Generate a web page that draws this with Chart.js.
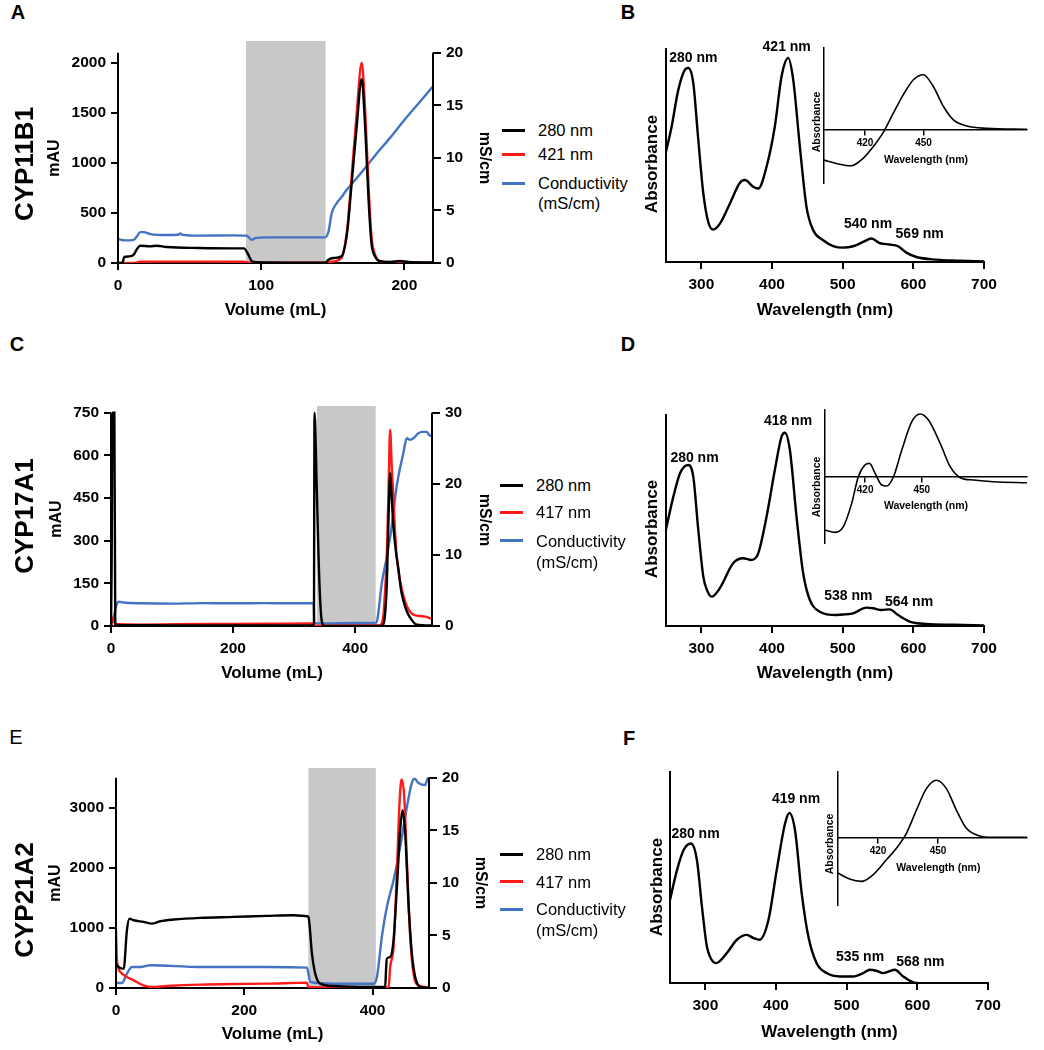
<!DOCTYPE html>
<html><head><meta charset="utf-8">
<script src="https://cdn.jsdelivr.net/npm/chart.js"></script>
<style>
html,body{margin:0;padding:0;background:#fff}
body{width:1044px;height:1050px;position:relative;overflow:hidden}
canvas{position:absolute}
.t{position:absolute;white-space:nowrap;line-height:1;font-family:"Liberation Sans",Arial,Helvetica,sans-serif;color:#000;z-index:5}
.lg{position:absolute;height:3px;z-index:5}
</style></head><body>
<script>
// ---------------- DATA ----------------
// Chromatograms: [volume (mL), value]
const cyp11b1_280nm = [[0,0],[3,0],[4.4,60],[8,66],[11,83],[13,133],[15.6,173],[22.6,166],[27,173],[34,160],[57,150],[80.7,146],[88,146],[91,83],[93.5,17],[97,7],[120,4],[145,4],[147,33],[150.5,50],[156,66],[160,300],[163,764],[166.7,1362],[170.2,1837],[172.6,1362],[175,631],[177,200],[179.5,66],[183,17],[190,10],[197,20],[203,10],[220,5]];
const cyp11b1_421nm = [[0,0],[12,0],[15,12],[30,14],[60,14],[88,13],[92,3],[100,2],[145,2],[150,15],[156,50],[160,332],[163,830],[166.7,1495],[170.2,2000],[172.6,1528],[175,764],[177,266],[179.5,83],[183,17],[190,5],[220,3]];
const cyp11b1_cond = [[0,2.28],[5,2.15],[11,2.2],[13,2.5],[15.6,2.94],[18,2.94],[22.6,2.75],[34,2.66],[42,2.68],[43.5,2.8],[45,2.68],[57,2.6],[80.7,2.63],[89.3,2.6],[91,2.5],[93.5,2.2],[95.8,2.37],[104,2.44],[127,2.44],[144.7,2.44],[147,3.0],[149.3,4.75],[152.8,5.7],[156.3,6.3],[159.8,6.96],[170,8.6],[180,10.3],[190,11.9],[200,13.6],[210,15.2],[220,16.8]];
const cyp11b1_load = [89.3, 145.1];

const cyp17a1_280nm = [[0,0],[1,200],[2.5,750],[5.5,750],[7,5],[20,3],[100,2],[200,2],[330,2],[332.5,10],[333.5,750],[337,500],[340,250],[343,80],[346,10],[350,0],[445,0],[449,40],[452,150],[455,400],[457.4,537],[460,450],[462.8,350],[467,260],[471,200],[475,130],[479,90],[485,50],[490,30],[501,5],[526,2]];
const cyp17a1_417nm = [[0,0],[2,15],[3.5,30],[6,12],[10,6],[50,5],[150,7],[250,8],[330,9],[332,2],[340,1],[440,2],[446,30],[449,120],[452,250],[455,500],[457.4,690],[460,560],[462.8,450],[465,350],[468,250],[472,180],[476.5,130],[480,100],[484.7,70],[490,50],[495.6,40],[506,35],[515,33],[526,25]];
const cyp17a1_cond = [[0,0.1],[5,1.5],[10,3.2],[13.7,3.42],[20,3.3],[50,3.2],[100,3.15],[150,3.22],[200,3.2],[250,3.22],[300,3.2],[330,3.19],[332,3.1],[333.5,0.4],[350,0.37],[400,0.42],[435,0.47],[437,1.2],[443.7,6],[452,9.75],[460,14],[468,19.6],[479,24.3],[484.7,26.4],[490,26.2],[495.6,26.4],[503.8,27.1],[510,27.3],[517.5,27.3],[521,26.9],[526,26.7]];
const cyp17a1_load = [337, 434];

const cyp21a2_280nm = [[0,405],[4,350],[9.4,322],[12,322],[17,960],[21,1155],[27.5,1128],[43,1100],[56,1072],[69,1111],[90,1139],[131,1167],[183,1183],[235,1200],[277,1211],[297.7,1194],[300,1183],[305.5,572],[310.6,239],[318.4,72],[339,33],[391,17],[419.7,17],[421,300],[422.3,489],[427.5,517],[432.7,794],[438,1683],[443,2628],[446.8,2961],[450.9,2572],[456,1405],[461.3,572],[466.5,183],[474.3,17],[488,0]];
const cyp21a2_417nm = [[0,960],[1.5,461],[6.8,267],[17,183],[27.5,128],[43,44],[56,17],[79.5,33],[131,56],[183,67],[235,72],[297.7,89],[299.7,17],[350,10],[400,10],[425,12],[427.5,350],[432.7,683],[438,1961],[442,3072],[445.2,3472],[449.4,3183],[453.5,2128],[458.7,850],[463.9,239],[471.7,44],[488,10]];
const cyp21a2_cond = [[0,0.48],[9.4,0.48],[17,1.37],[25,2.0],[38,2.0],[53.5,2.16],[131,2.0],[235,2.0],[297.7,1.94],[303,0.57],[339,0.41],[401.6,0.41],[406.8,1.05],[414.5,4.86],[422.3,7.7],[432.7,10.25],[443,13.4],[453.5,17.2],[461.3,19.5],[465.5,19.9],[471.7,19.5],[482,19.3],[485.7,19.9],[488,20]];
const cyp21a2_load = [299.7, 405.2];

// Tick labels
const ticksA_x = [0,100,200], ticksA_mAU = [0,500,1000,1500,2000], ticksA_mS = [0,5,10,15,20];
const ticksC_x = [0,200,400], ticksC_mAU = [0,150,300,450,600,750], ticksC_mS = [0,10,20,30];
const ticksE_x = [0,200,400], ticksE_mAU = [0,1000,2000,3000], ticksE_mS = [0,5,10,15,20];
const ticksWavelength = [300,400,500,600,700];
const ticksInset = [420,450];

// Absorbance spectra: [wavelength (nm), relative absorbance]
const specB = [[250,0.518],[258,0.636],[267.4,0.808],[276.9,0.903],[281.6,0.911],[288.6,0.84],[295.7,0.573],[302.8,0.322],[309.8,0.188],[316.9,0.152],[326.3,0.18],[340.5,0.275],[354.6,0.372],[361.7,0.385],[373.5,0.353],[380.5,0.345],[392.3,0.447],[404,0.636],[413.5,0.871],[422.9,0.958],[430,0.856],[439.4,0.542],[448.8,0.259],[458.3,0.149],[472.4,0.102],[486.5,0.075],[500.7,0.0675],[514.8,0.074],[528.9,0.094],[540.7,0.11],[552.5,0.089],[566.6,0.082],[578.4,0.074],[590.2,0.044],[604.3,0.0235],[632.6,0.011],[665.6,0.006],[700,0.002]];
const specD = [[250,0.458],[260.4,0.613],[269.8,0.724],[276,0.755],[281.6,0.763],[288.6,0.708],[295.7,0.455],[302.8,0.234],[308,0.17],[314.6,0.139],[326,0.178],[345,0.297],[359.3,0.321],[371,0.313],[380.5,0.344],[392.3,0.518],[404,0.739],[413.5,0.897],[418.2,0.916],[425.3,0.834],[434.7,0.518],[444.1,0.25],[453.6,0.123],[467.7,0.068],[491.3,0.052],[503,0.055],[514.8,0.06],[533.7,0.087],[543,0.084],[554.9,0.076],[566.6,0.079],[578.4,0.052],[594.9,0.021],[618.5,0.0095],[656.2,0.006],[700,0.003]];
const specF = [[250,0.394],[259.9,0.535],[269.3,0.63],[279.6,0.661],[288.1,0.583],[295.2,0.362],[302.2,0.173],[308,0.115],[315.4,0.094],[330.5,0.142],[344.6,0.205],[358.7,0.228],[368.1,0.213],[376.6,0.205],[389.3,0.299],[401,0.535],[412.8,0.756],[418.9,0.806],[426.9,0.724],[436.4,0.425],[445.8,0.22],[457.5,0.094],[471.7,0.047],[490.5,0.031],[509.3,0.031],[523.4,0.047],[532.8,0.063],[542,0.058],[551.6,0.047],[560,0.055],[568.1,0.063],[579.9,0.031],[594,0.003],[600,0]];

// Difference spectra insets
const insetB = [[399,-0.379],[405.3,-0.42],[413,-0.449],[419,-0.358],[424.2,-0.214],[429.3,-0.041],[434.5,0.198],[439.6,0.424],[444.8,0.609],[449.9,0.671],[455,0.527],[460.2,0.28],[465.3,0.115],[472.2,0.041],[482.5,0.012],[503,0]];
const insetD = [[398.8,-0.8],[404.1,-0.835],[408.5,-0.75],[412.9,-0.4],[416.4,0],[419.9,0.175],[422.3,0.2],[425.3,0.05],[428.8,-0.125],[431.4,-0.14],[435,0],[439.4,0.4],[444.7,0.825],[449.1,0.94],[453.5,0.85],[459.7,0.5],[465,0.15],[470.3,-0.015],[477.3,-0.05],[487.9,-0.075],[505.6,-0.09]];
const insetF = [[400,-0.548],[405.8,-0.64],[411.7,-0.675],[417.5,-0.574],[424.2,-0.345],[429.2,-0.168],[434.2,0.061],[439.2,0.416],[444.2,0.746],[449.2,0.873],[454.2,0.746],[459.2,0.416],[464.2,0.137],[470.8,0.02],[477.5,0],[494.5,0]];
const insetRangeB = [399, 503], insetRangeD = [398.8, 505.6], insetRangeF = [400, 494.5];

// ---------------- DRAWING ----------------
const FONT = "'Liberation Sans', Arial, Helvetica, sans-serif";
const pts = a => a.map(([x, y]) => ({x, y}));
const setTicks = arr => s => { s.ticks = arr.map(v => ({value: v})); };
const num = v => String(v);

function makeCanvas(left, top, w, h) {
  const c = document.createElement('canvas');
  c.width = w; c.height = h;
  c.style.left = left + 'px'; c.style.top = top + 'px';
  c.style.width = w + 'px'; c.style.height = h + 'px';
  document.body.appendChild(c);
  return c.getContext('2d');
}

Chart.register({
  id: 'axisLines',
  afterDraw(chart, args, opts) {
    const lines = opts.lines || [];
    if (!lines.length) return;
    const ctx = chart.ctx, a = chart.chartArea;
    ctx.save(); ctx.strokeStyle = '#000'; ctx.lineWidth = 2;
    lines.forEach(l => {
      const s = chart.scales[l.scale];
      const x = l.side === 'left' ? a.left : a.right;
      ctx.beginPath();
      ctx.moveTo(x, s.getPixelForValue(0) + 1);
      ctx.lineTo(x, s.getPixelForValue(l.top));
      ctx.stroke();
    });
    ctx.restore();
  }
});

const base = {responsive: false, animation: false, devicePixelRatio: 1, events: []};

function chromatogram(o) {
  const padL = 80, padR = 50, padT = 22, padB = 45;
  const W = o.R - o.L + padL + padR, H = o.B - o.T + padT + padB;
  const ctx = makeCanvas(o.L - padL, o.T - padT, W, H);
  const leftMax = o.leftTop * (o.B - o.T) / (o.B - o.axisTop);
  const rightMax = o.rightTop * (o.B - o.T) / (o.B - o.axisTop);
  const tf = {family: FONT, size: 15.5, weight: 'bold'};
  const line = (d, c, ax) => ({data: pts(d), yAxisID: ax, borderColor: c, borderWidth: 2.4, pointRadius: 0, fill: false, cubicInterpolationMode: 'monotone'});
  new Chart(ctx, {
    type: 'line',
    data: {datasets: [
      line(o.s280, '#000000', 'y'),
      line(o.sAbs, '#ff1a1a', 'y'),
      line(o.sCond, '#4472c4', 'y2'),
      {data: [{x: o.load[0], y: leftMax}, {x: o.load[1], y: leftMax}], yAxisID: 'y', borderWidth: 0, borderColor: 'rgba(0,0,0,0)', pointRadius: 0, fill: 'origin', backgroundColor: '#c8c8c8'}
    ]},
    options: Object.assign({}, base, {
      layout: {padding: {top: padT, bottom: 0, left: 0, right: 0}},
      plugins: {legend: {display: false}, tooltip: {enabled: false},
        axisLines: {lines: [{scale: 'y', side: 'left', top: o.leftTop}, {scale: 'y2', side: 'right', top: o.rightTop}]}},
      scales: {
        x: {type: 'linear', min: 0, max: o.xMax, afterBuildTicks: setTicks(o.xTicks), afterFit: s => { s.height = padB; },
            grid: {drawOnChartArea: false, tickLength: 7, color: '#000', lineWidth: 2},
            border: {display: true, color: '#000', width: 2},
            ticks: {font: tf, color: '#000', padding: 6, maxRotation: 0, autoSkip: false, callback: num}},
        y: {type: 'linear', position: 'left', min: 0, max: leftMax, afterBuildTicks: setTicks(o.leftTicks), afterFit: s => { s.width = padL; },
            grid: {drawOnChartArea: false, tickLength: 7, color: '#000', lineWidth: 2},
            border: {display: false},
            ticks: {font: tf, color: '#000', padding: 5, callback: num}},
        y2: {type: 'linear', position: 'right', min: 0, max: rightMax, afterBuildTicks: setTicks(o.rightTicks), afterFit: s => { s.width = padR; },
            grid: {drawOnChartArea: false, tickLength: 8, color: '#000', lineWidth: 2},
            border: {display: false},
            ticks: {font: tf, color: '#000', padding: 5, callback: num}}
      }
    })
  });
}

function spectrum(o) {
  const padL = 30, padR = 30, padT = 4, padB = 45;
  const W = o.R - o.L + padL + padR, H = o.B - o.T + padT + padB;
  const ctx = makeCanvas(o.L - padL, o.T - padT, W, H);
  const tf = {family: FONT, size: 15.5, weight: 'bold'};
  new Chart(ctx, {
    type: 'line',
    data: {datasets: [{data: pts(o.data), borderColor: '#000', borderWidth: 2.4, pointRadius: 0, fill: false, cubicInterpolationMode: 'monotone'}]},
    options: Object.assign({}, base, {
      layout: {padding: {top: padT, bottom: 0, left: 0, right: padR}},
      plugins: {legend: {display: false}, tooltip: {enabled: false}},
      scales: {
        x: {type: 'linear', min: 250, max: 700, afterBuildTicks: setTicks(ticksWavelength), afterFit: s => { s.height = padB; },
            grid: {drawOnChartArea: false, tickLength: 7, color: '#000', lineWidth: 2},
            border: {display: true, color: '#000', width: 2},
            ticks: {font: tf, color: '#000', padding: 6, maxRotation: 0, autoSkip: false, callback: num}},
        y: {type: 'linear', min: 0, max: 1, afterFit: s => { s.width = padL; },
            grid: {display: false}, border: {display: true, color: '#000', width: 2}, ticks: {display: false}}
      }
    })
  });
}

function inset(o) {
  const pad = 3;
  const ctx = makeCanvas(o.L - pad, o.T - pad, o.R - o.L + 2 * pad, o.B - o.T + 2 * pad);
  const yMin = -(o.B - o.zeroY) / (o.zeroY - o.T);
  new Chart(ctx, {
    type: 'line',
    data: {datasets: [{data: pts(o.data), borderColor: '#000', borderWidth: 1.6, pointRadius: 0, fill: false, cubicInterpolationMode: 'monotone'}]},
    options: Object.assign({}, base, {
      layout: {padding: {top: pad, bottom: pad, left: 0, right: pad}},
      plugins: {legend: {display: false}, tooltip: {enabled: false}},
      scales: {
        x: {type: 'linear', position: {y: 0}, min: o.range[0], max: o.range[1], afterBuildTicks: setTicks(ticksInset),
            grid: {drawOnChartArea: false, tickLength: 5, color: '#000', lineWidth: 1.5},
            border: {display: true, color: '#000', width: 1.5},
            ticks: {font: {family: FONT, size: 10, weight: 'bold'}, color: '#000', padding: 3, maxRotation: 0, autoSkip: false, callback: num}},
        y: {type: 'linear', min: yMin, max: 1, afterFit: s => { s.width = pad; },
            grid: {display: false}, border: {display: true, color: '#000', width: 1.5}, ticks: {display: false}}
      }
    })
  });
}

function txt(s, x, y, o = {}) {
  const d = document.createElement('div');
  d.className = 't'; d.textContent = s;
  d.style.left = x + 'px'; d.style.top = y + 'px';
  d.style.fontSize = (o.size || 14) + 'px';
  d.style.fontWeight = o.bold === false ? 'normal' : 'bold';
  d.style.transform = (o.left ? 'translate(0,-50%)' : 'translate(-50%,-50%)') + (o.rot ? ' rotate(' + o.rot + 'deg)' : '');
  document.body.appendChild(d);
}

function legend(x0, x1, tx, rows) {
  rows.forEach(r => {
    if (r.color) {
      const l = document.createElement('div');
      l.className = 'lg';
      l.style.left = x0 + 'px'; l.style.width = (x1 - x0) + 'px';
      l.style.top = Math.round(r.y - 1.5) + 'px'; l.style.background = r.color;
      document.body.appendChild(l);
    }
    txt(r.text, tx, r.y, {left: true, bold: false, size: 16.5});
  });
}

// ---- Panel A ----
chromatogram({L: 118, R: 433, T: 41, B: 263, axisTop: 52.7, xMax: 220, xTicks: ticksA_x, leftTicks: ticksA_mAU, rightTicks: ticksA_mS, leftTop: 2100, rightTop: 20,
  s280: cyp11b1_280nm, sAbs: cyp11b1_421nm, sCond: cyp11b1_cond, load: cyp11b1_load});
// ---- Panel C ----
chromatogram({L: 111, R: 432, T: 406, B: 626, axisTop: 412.7, xMax: 526, xTicks: ticksC_x, leftTicks: ticksC_mAU, rightTicks: ticksC_mS, leftTop: 750, rightTop: 30,
  s280: cyp17a1_280nm, sAbs: cyp17a1_417nm, sCond: cyp17a1_cond, load: cyp17a1_load});
// ---- Panel E ----
chromatogram({L: 116, R: 429, T: 768, B: 988, axisTop: 777.7, xMax: 488, xTicks: ticksE_x, leftTicks: ticksE_mAU, rightTicks: ticksE_mS, leftTop: 3500, rightTop: 20,
  s280: cyp21a2_280nm, sAbs: cyp21a2_417nm, sCond: cyp21a2_cond, load: cyp21a2_load});

// ---- Spectra ----
spectrum({L: 666, R: 984, T: 49, B: 262, data: specB});
spectrum({L: 666, R: 984, T: 415, B: 626, data: specD});
spectrum({L: 670, R: 988, T: 772, B: 983, data: specF});

inset({L: 824, R: 1027, T: 48, B: 183, zeroY: 129.3, range: insetRangeB, data: insetB});
inset({L: 825, R: 1027, T: 410, B: 543, zeroY: 476.7, range: insetRangeD, data: insetD});
inset({L: 838, R: 1027, T: 772, B: 905, zeroY: 837.3, range: insetRangeF, data: insetF});

// ---- Text ----
txt('A', 18, 12, {size: 20}); txt('B', 628, 12, {size: 20});
txt('C', 17, 344, {size: 20}); txt('D', 628, 344, {size: 20});
txt('E', 16, 737, {size: 20, bold: false}); txt('F', 629, 738, {size: 20});

txt('CYP11B1', 23.5, 164, {size: 26, rot: -90});
txt('CYP17A1', 24, 516, {size: 26, rot: -90});
txt('CYP21A2', 24, 900, {size: 26, rot: -90});

txt('mAU', 54, 158, {size: 16, rot: -90});
txt('mAU', 56, 519, {size: 16, rot: -90});
txt('mAU', 55, 883, {size: 16, rot: -90});
txt('mS/cm', 485, 158, {size: 16, rot: 90});
txt('mS/cm', 485, 520, {size: 16, rot: 90});
txt('mS/cm', 481, 883, {size: 16, rot: 90});

txt('Volume (mL)', 275.5, 309, {size: 17});
txt('Volume (mL)', 272, 672, {size: 17});
txt('Volume (mL)', 272.5, 1033, {size: 17});

txt('Wavelength (nm)', 825, 309, {size: 17});
txt('Wavelength (nm)', 825, 672, {size: 17});
txt('Wavelength (nm)', 829.5, 1031, {size: 17});
txt('Absorbance', 651, 164, {size: 17, rot: -90});
txt('Absorbance', 651, 529, {size: 17, rot: -90});
txt('Absorbance', 656, 887, {size: 17, rot: -90});

// peak labels
txt('280 nm', 693.3, 56.7); txt('421 nm', 786.7, 46); txt('540 nm', 868, 223.3); txt('569 nm', 919.7, 233.3);
txt('280 nm', 694.5, 457.3); txt('418 nm', 788, 420); txt('538 nm', 848.3, 595); txt('564 nm', 909, 600.7);
txt('280 nm', 695.5, 832.7); txt('419 nm', 796, 798.3); txt('535 nm', 860, 956); txt('568 nm', 920.3, 960.7);

// inset titles
txt('Absorbance', 816, 121.7, {size: 10.5, rot: -90}); txt('Wavelength (nm)', 926, 159.3, {size: 10.5});
txt('Absorbance', 816, 486.7, {size: 10.5, rot: -90}); txt('Wavelength (nm)', 926, 505, {size: 10.5});
txt('Absorbance', 829.3, 844, {size: 10.5, rot: -90}); txt('Wavelength (nm)', 938.3, 866.7, {size: 10.5});

// legends
legend(502, 525, 538, [{y: 130, color: '#000', text: '280 nm'}, {y: 154, color: '#ff1a1a', text: '421 nm'}, {y: 183, color: '#4472c4', text: 'Conductivity'}, {y: 203, text: '(mS/cm)'}]);
legend(500, 523, 536, [{y: 485, color: '#000', text: '280 nm'}, {y: 512, color: '#ff1a1a', text: '417 nm'}, {y: 540.5, color: '#4472c4', text: 'Conductivity'}, {y: 561.7, text: '(mS/cm)'}]);
legend(500, 523, 536, [{y: 854, color: '#000', text: '280 nm'}, {y: 881.5, color: '#ff1a1a', text: '417 nm'}, {y: 909, color: '#4472c4', text: 'Conductivity'}, {y: 930, text: '(mS/cm)'}]);
</script>
</body></html>
